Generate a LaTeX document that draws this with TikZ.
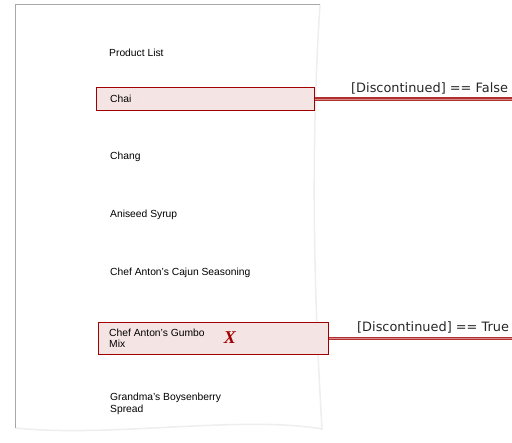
\documentclass[tikz,border=0pt]{standalone}
\usepackage{fontspec}
\setmainfont{Liberation Sans}
\newfontfamily\labelfont{DejaVu Sans}
\newfontfamily\markfont{Liberation Serif}
\definecolor{boxred}{HTML}{A00000}
\definecolor{boxfill}{HTML}{F5E4E4}
\definecolor{linedark}{HTML}{B03030}
\definecolor{linelight}{HTML}{D88A8A}
\definecolor{pageedge}{HTML}{A8A8A8}
\definecolor{pageshadow}{HTML}{EEEEEE}
\tikzset{
  item/.style={anchor=west, inner sep=0pt, align=left, font=\fontsize{10.3pt}{11.5pt}\selectfont},
  hilite/.style={draw=boxred, fill=boxfill, line width=1.1pt, inner sep=0pt},
  cond/.style={draw=linedark, double=linelight, double distance=0.9pt, line width=1.1pt},
  condlabel/.style={anchor=west, inner sep=0pt, font=\labelfont\fontsize{12.9pt}{14pt}\selectfont, text=black!85}
}
\begin{document}
\begin{tikzpicture}[x=1pt,y=-1pt]
\useasboundingbox (0,0) rectangle (512,443);
% page
\fill[white] (15.5,4.5) -- (320,4.5) .. controls (312,130) and (312,260) .. (322,429)
  .. controls (240,415) and (110,438) .. (15.5,428) -- cycle;
\draw[pageshadow, line width=1.5pt] (320,4.5) .. controls (312,130) and (312,260) .. (322,429)
  .. controls (240,415) and (110,438) .. (15.5,428);
\draw[pageedge, line width=0.9pt] (15.5,428) -- (15.5,4.5) -- (320,4.5);
% highlighted rows
\node[hilite, minimum width=218pt, minimum height=23pt, anchor=north west] (chaibox) at (95.5,87) {};
\node[hilite, minimum width=230pt, minimum height=32pt, anchor=north west] (gumbobox) at (98,322) {};
% items
\node[item] (title) at (109,52.5) {Product List};
\node[item] (chai) at (110,98.5) {Chai};
\node[item] (chang) at (110,156.5) {Chang};
\node[item] (anis) at (110,214.5) {Aniseed Syrup};
\node[item] (cajun) at (110,272.5) {Chef Anton's Cajun Seasoning};
\node[item] (gumbo) at (109,338.5) {Chef Anton's Gumbo\\Mix};
\node[item] (grandma) at (110,404) {Grandma's Boysenberry\\Spread};
\node[inner sep=0pt, text=boxred, font=\markfont\bfseries\itshape\fontsize{18pt}{18pt}\selectfont] (xmark) at (230,338) {X};
% connectors
\coordinate (endA) at (512,97.5);
\coordinate (endB) at (512,337);
\draw[cond] (chaibox.east) -- (chaibox.east -| endA);
\draw[cond] (gumbobox.east) -- (gumbobox.east -| endB);
\node[condlabel] (labA) at (351,88) {[Discontinued] == False};
\node[condlabel] (labB) at (357,327) {[Discontinued] == True};
\end{tikzpicture}
\end{document}
